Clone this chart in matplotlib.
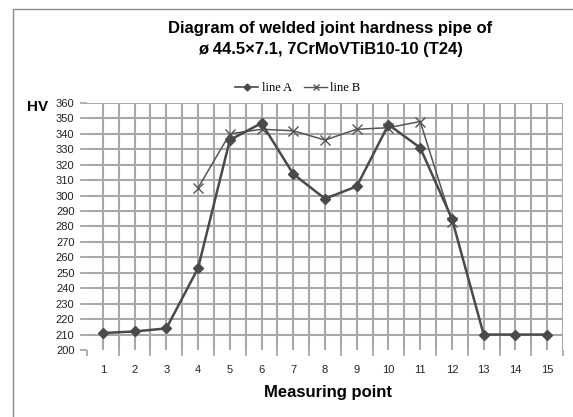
import numpy as np
import matplotlib
matplotlib.use("Agg")
import matplotlib.pyplot as plt
from matplotlib.patches import Rectangle
from matplotlib.lines import Line2D

# Dados
pontos = list(range(1, 16))
linha_a = [211, 212, 214, 253, 336, 347, 314, 298, 306, 346, 331, 285, 210, 210, 210]
linha_b = [np.nan, np.nan, np.nan, 305, 340, 343, 342, 336, 343, 344, 348, 283,
           np.nan, np.nan, np.nan]
y_ticks = list(range(200, 361, 10))

titulo = "Diagram of welded joint hardness pipe of\n\u00f8 44.5\u00d77.1, 7CrMoVTiB10-10 (T24)"

W, H = 573, 417
fig = plt.figure(figsize=(W / 100, H / 100), dpi=100)
fig.patch.set_facecolor("white")

# moldura externa
fig.add_artist(Rectangle((13 / W, -0.05), 1.1, 1 - 9 / H + 0.05, transform=fig.transFigure,
                         fill=False, edgecolor="#8c8c8c", linewidth=1.0))

ax = fig.add_axes([87 / W, 1 - 350 / H, (563 - 87) / W, (350 - 103) / H])

cor_grade = "#a8a8a8"
cor_linha = "#4a4a4a"

ax.plot(pontos, linha_a, color=cor_linha, linewidth=1.8, marker="D", markersize=5.5,
        markerfacecolor=cor_linha, markeredgecolor=cor_linha, zorder=4, label="line A")
ax.plot(pontos, linha_b, color="#555555", linewidth=1.1, marker="x", markersize=6.5,
        markeredgewidth=1.0, zorder=3, label="line B")

ax.set_xlim(0.5, 15.5)
ax.set_ylim(200, 360)
ax.set_xticks(pontos)
ax.set_xticks(np.arange(0.5, 15.6, 1.0), minor=True)
ax.set_yticks(y_ticks)

for s in ax.spines.values():
    s.set_visible(False)

ax.tick_params(axis="x", which="major", length=0, pad=11, labelsize=8, labelcolor="#222222")
ax.tick_params(axis="x", which="minor", length=4, width=1.3, color=cor_grade, direction="out")
ax.tick_params(axis="y", which="major", length=5, width=1.3, color=cor_grade, pad=4,
               labelsize=8, labelcolor="#222222")

ax.grid(True, which="both", axis="x", color=cor_grade, linewidth=1.5)
ax.grid(True, which="major", axis="y", color=cor_grade, linewidth=1.5)
ax.set_axisbelow(True)

fig.canvas.draw()
ax.yaxis.get_major_ticks()[0].gridline.set_visible(False)
ax.xaxis.get_minor_ticks()[0].gridline.set_visible(False)

for lbl in ax.get_xticklabels() + ax.get_yticklabels():
    lbl.set_fontfamily("Liberation Sans")

fig.text(330 / W, 1 - 39 / H, titulo, ha="center", va="center", fontsize=12,
         fontweight="bold", family="Liberation Sans", linespacing=1.5)
fig.text(38 / W, 1 - 107 / H, "HV", ha="center", va="center", fontsize=11,
         fontweight="bold", family="Liberation Sans")
fig.text(328 / W, 1 - 393 / H, "Measuring point", ha="center", va="center", fontsize=12,
         fontweight="bold", family="Liberation Sans")

handles = [
    Line2D([], [], color=cor_linha, linewidth=1.2, marker="D", markersize=3.5),
    Line2D([], [], color="#555555", linewidth=1.0, marker="x", markersize=4.5),
]
fig.legend(handles, ["line A", "line B"], loc="center", bbox_to_anchor=(298 / W, 1 - 88 / H),
           ncol=2, frameon=False, prop={"family": "Liberation Serif", "size": 9},
           handlelength=1.8, handletextpad=0.3, columnspacing=1.0)

fig.savefig("out.png", dpi=100)
